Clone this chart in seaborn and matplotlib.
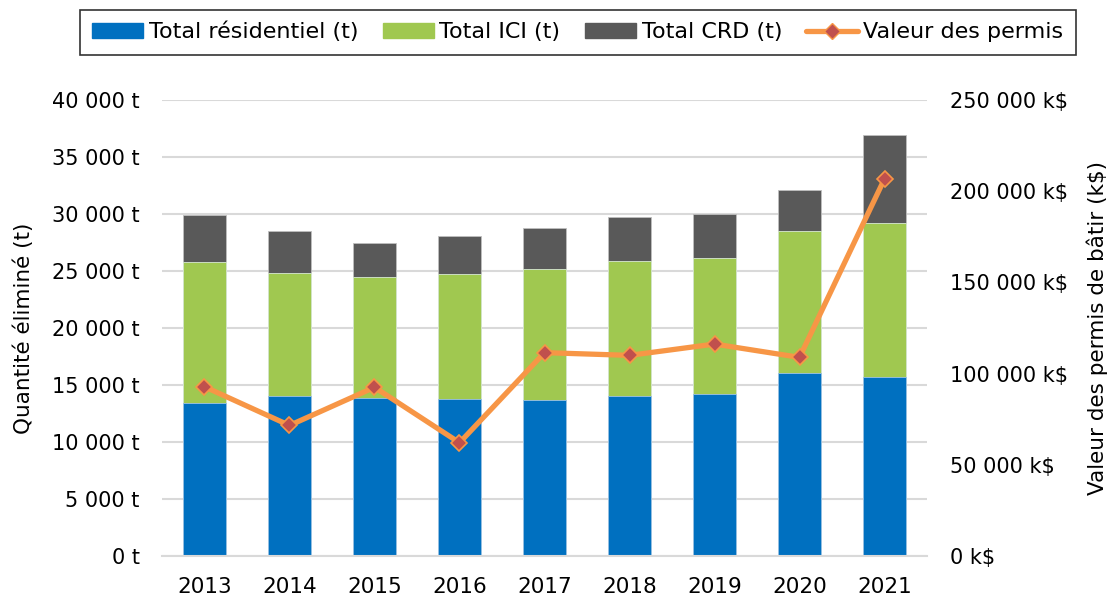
from matplotlib import pyplot as plt
from matplotlib.lines import Line2D
from matplotlib.patches import Patch
from matplotlib.ticker import FuncFormatter, MultipleLocator
import numpy as np
import pandas as pd
import seaborn as sns

annees = ['2013', '2014', '2015', '2016', '2017', '2018', '2019', '2020', '2021']
residentiel = [13450, 14040, 13860, 13740, 13680, 14040, 14210, 16080, 15730]
ici = [12350, 10810, 10640, 11000, 11520, 11810, 11930, 12460, 13510]
crd = [4140, 3630, 2990, 3330, 3570, 3920, 3860, 3560, 7720]
permis = [92800, 71600, 92500, 62100, 111500, 110000, 116200, 108900, 206800]

c_res = '#0070C0'
c_ici = '#A0C850'
c_crd = '#595959'
c_ligne = '#F79646'
c_marq = '#C0504D'

df = pd.DataFrame({'annee': annees, 'res': residentiel, 'ici': ici, 'crd': crd, 'permis': permis})
df['res_ici'] = df['res'] + df['ici']
df['total'] = df['res_ici'] + df['crd']

sns.set_style('white')
plt.rcParams['font.family'] = ['DejaVu Sans']
plt.rcParams['text.color'] = 'black'
plt.rcParams['axes.labelcolor'] = 'black'
plt.rcParams['xtick.color'] = 'black'
plt.rcParams['ytick.color'] = 'black'

fig = plt.figure(figsize=(11.11, 5.96), dpi=100)
ax = fig.add_axes([0.1458, 0.0671, 0.6886, 0.7651])

# barres empilees : total, puis res+ici, puis res par-dessus
sns.barplot(data=df, x='annee', y='total', color=c_crd, width=0.5, ax=ax,
            edgecolor='#bfbfbf', linewidth=0.6, saturation=1)
sns.barplot(data=df, x='annee', y='res_ici', color=c_ici, width=0.5, ax=ax,
            edgecolor='#d9ead3', linewidth=0.6, saturation=1)
sns.barplot(data=df, x='annee', y='res', color=c_res, width=0.5, ax=ax,
            edgecolor='#9dc3e6', linewidth=0.6, saturation=1)

ax.set_xlim(-0.5, len(annees) - 0.5)
ax.set_ylim(0, 40000)
ax.yaxis.set_major_locator(MultipleLocator(5000))
ax.yaxis.set_major_formatter(FuncFormatter(lambda v, p: '{:,} t'.format(int(v)).replace(',', ' ')))
ax.grid(axis='y', color='#d9d9d9', linewidth=1.5)
ax.set_axisbelow(True)
for s in ['top', 'right', 'left']:
    ax.spines[s].set_visible(False)
ax.spines['bottom'].set_color('#d9d9d9')
ax.spines['bottom'].set_linewidth(1.5)
ax.tick_params(axis='y', length=0, labelsize=15, pad=16)
ax.tick_params(axis='x', length=0, labelsize=15.5, pad=15)
ax.set_xlabel('')
ax.set_ylabel('Quantité éliminé (t)', fontsize=15.5)
ax.yaxis.set_label_coords(-0.167, 0.5)

ax2 = ax.twinx()
sns.lineplot(x=np.arange(len(annees)), y=df['permis'], ax=ax2, color=c_ligne,
             linewidth=3.8, marker='D', markersize=8, markerfacecolor=c_marq,
             markeredgecolor=c_ligne, markeredgewidth=1.2)
ax2.set_ylim(0, 250000)
ax2.yaxis.set_major_locator(MultipleLocator(50000))
ax2.yaxis.set_major_formatter(FuncFormatter(lambda v, p: '{:,} k$'.format(int(v)).replace(',', ' ')))
for s in ax2.spines.values():
    s.set_visible(False)
ax2.tick_params(axis='y', length=0, labelsize=15, pad=16.5)
ax2.set_ylabel('Valeur des permis de bâtir (k$)', fontsize=15.5)
ax2.yaxis.set_label_coords(1.208, 0.5)

handles = [Patch(color=c_res), Patch(color=c_ici), Patch(color=c_crd),
           Line2D([], [], color=c_ligne, linewidth=3.8, marker='D', markersize=8,
                  markerfacecolor=c_marq, markeredgecolor=c_ligne)]
labels = ['Total résidentiel (t)', 'Total ICI (t)', 'Total CRD (t)', 'Valeur des permis']
leg = fig.legend(handles, labels, loc='center', bbox_to_anchor=(0.520, 0.946), ncol=4,
                 fontsize=16, frameon=True, fancybox=False, edgecolor='black',
                 handlelength=2.3, handleheight=0.62, columnspacing=1.1, handletextpad=0.25,
                 borderpad=0.55)
leg.get_frame().set_linewidth(1.2)

plt.savefig('out.png', dpi=100)
